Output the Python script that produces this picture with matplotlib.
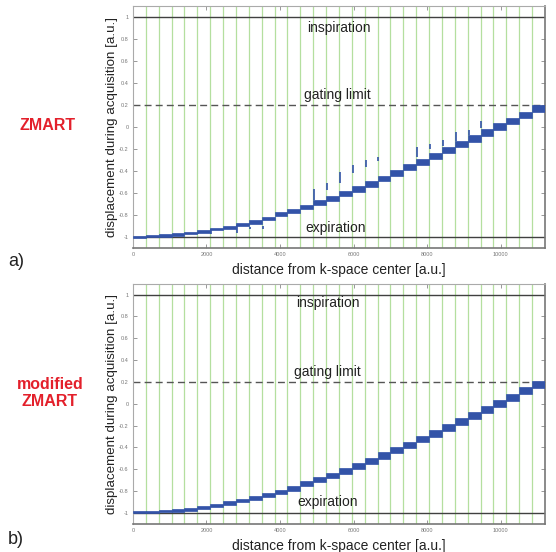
import numpy as np
import matplotlib
matplotlib.use("Agg")
import matplotlib.pyplot as plt

plt.rcParams['font.family'] = ['Liberation Sans', 'DejaVu Sans']

# step edges along k-space distance (gating windows)
edges = [0, 350, 700, 1050, 1400, 1750, 2100, 2450, 2800, 3150, 3500,
         3850, 4200, 4550, 4900, 5250, 5600, 5950, 6300, 6650, 7000,
         7350, 7700, 8050, 8400, 8750, 9100, 9450, 9800, 10150, 10500,
         10850, 11200]

# a) ZMART: mean displacement of each window
zmart_level = [-0.997, -0.994, -0.988, -0.979, -0.967, -0.952, -0.930, -0.912,
               -0.891, -0.864, -0.833, -0.796, -0.761, -0.730, -0.688, -0.648,
               -0.609, -0.564, -0.518, -0.468, -0.421, -0.368, -0.315, -0.264,
               -0.210, -0.156, -0.103, -0.048, 0.003, 0.055, 0.109, 0.167]
zmart_spread = [0.009, 0.009, 0.010, 0.010, 0.011, 0.012, 0.012, 0.013,
                0.014, 0.015, 0.017, 0.018, 0.019, 0.020, 0.021, 0.022,
                0.023, 0.024, 0.025, 0.026, 0.027, 0.027, 0.028, 0.028,
                0.029, 0.029, 0.030, 0.030, 0.030, 0.030, 0.030, 0.030]

# outliers at window starts (ZMART only)
spike_x = [1750, 2100, 2800, 3150, 3500, 4900, 5250, 5600, 5950, 6300, 6650,
           7700, 8050, 8400, 8750, 9100, 9450]
spike_lo = [-0.975, -0.975, -0.966, -0.925, -0.925, -0.664, -0.573, -0.512,
            -0.415, -0.360, -0.306, -0.270, -0.200, -0.170, -0.130, -0.070, -0.012]
spike_hi = [-0.952, -0.930, -0.891, -0.912, -0.905, -0.566, -0.512, -0.406,
            -0.345, -0.300, -0.270, -0.179, -0.155, -0.118, -0.045, -0.024, 0.057]

# b) modified ZMART
mod_level = [-0.993, -0.990, -0.984, -0.978, -0.966, -0.951, -0.929, -0.908,
             -0.887, -0.862, -0.836, -0.807, -0.774, -0.734, -0.697, -0.658,
             -0.615, -0.569, -0.523, -0.474, -0.422, -0.376, -0.322, -0.270,
             -0.215, -0.160, -0.105, -0.050, 0.005, 0.060, 0.118, 0.173]
mod_spread = [0.010, 0.010, 0.011, 0.011, 0.012, 0.013, 0.014, 0.015,
              0.016, 0.017, 0.019, 0.020, 0.021, 0.022, 0.024, 0.025,
              0.026, 0.027, 0.028, 0.029, 0.030, 0.030, 0.031, 0.031,
              0.032, 0.032, 0.032, 0.032, 0.032, 0.032, 0.032, 0.032]

inspiration = 1.0
expiration = -1.0
gating_limit = 0.2

xticks = [0, 2000, 4000, 6000, 8000, 10000]
yticks = [-1, -0.8, -0.6, -0.4, -0.2, 0, 0.2, 0.4, 0.6, 0.8, 1]
ytick_labels = ['-1', '-0.8', '-0.6', '-0.4', '-0.2', '0', '0.2', '0.4', '0.6', '0.8', '1']

blue = '#3353a8'
green = '#b4df9f'


def draw_panel(ax, level, spread, label_pos, spikes=None):
    # gating window boundaries
    for x in edges[1:-1]:
        ax.axvline(x, color=green, lw=0.9, zorder=1)
    ax.axhline(inspiration, color='#404040', lw=1.0, zorder=2)
    ax.axhline(expiration, color='#404040', lw=1.0, zorder=2)
    ax.axhline(gating_limit, color='#555555', lw=1.0, ls=(0, (5, 3)), zorder=2)

    lvl = np.array(level)
    spr = np.array(spread)
    widths = np.diff(edges)
    ax.bar(edges[:-1], 2 * spr, bottom=lvl - spr, width=widths, align='edge',
           color=blue, edgecolor=blue, lw=0.5, zorder=3)
    if spikes is not None:
        sx, lo, hi = spikes
        ax.vlines(np.array(sx) + 25, lo, hi, color=blue, lw=1.2, zorder=3)

    xi, yi, xg, yg, xe, ye = label_pos
    ax.text(xi, yi, 'inspiration', ha='center', va='center', fontsize=10, color='#222222')
    ax.text(xg, yg, 'gating limit', ha='center', va='center', fontsize=10, color='#222222')
    ax.text(xe, ye, 'expiration', ha='center', va='center', fontsize=10, color='#222222')

    ax.set_xlim(edges[0], edges[-1])
    ax.set_ylim(-1.1, 1.1)
    ax.set_xticks(xticks)
    ax.set_xticklabels([str(t) for t in xticks])
    ax.set_yticks(yticks)
    ax.set_yticklabels(ytick_labels)
    ax.tick_params(direction='in', length=3, width=0.6, colors='#888888',
                   labelsize=4, labelcolor='#777777', top=True, right=True, pad=3)
    for side in ['left', 'top']:
        ax.spines[side].set_color('#aaaaaa')
        ax.spines[side].set_linewidth(0.8)
    for side in ['right', 'bottom']:
        ax.spines[side].set_color('#777777')
        ax.spines[side].set_linewidth(1.2)
    ax.set_ylabel('displacement during acquisition [a.u.]', fontsize=9.6, color='#222222', labelpad=1)
    ax.set_xlabel('distance from k-space center [a.u.]', fontsize=10, color='#222222', labelpad=4)


fig = plt.figure(figsize=(5.56, 5.52), dpi=100)
ax1 = fig.add_axes([0.239, 0.551, 0.741, 0.438])
ax2 = fig.add_axes([0.239, 0.051, 0.741, 0.435])

draw_panel(ax1, zmart_level, zmart_spread,
           (5600, 0.9, 5550, 0.29, 5500, -0.92),
           spikes=(spike_x, spike_lo, spike_hi))
draw_panel(ax2, mod_level, mod_spread,
           (5300, 0.92, 5300, 0.29, 5300, -0.9))

fig.text(48 / 556, 1 - 125 / 552, 'ZMART', color='#e3202b', fontsize=11.5,
         fontweight='bold', ha='center', va='center')
fig.text(50 / 556, 1 - 393 / 552, 'modified\nZMART', color='#e3202b', fontsize=11.5,
         fontweight='bold', ha='center', va='center', linespacing=1.2)
fig.text(16 / 556, 1 - 262 / 552, 'a)', fontsize=13, ha='center', va='center', color='#222222')
fig.text(16 / 556, 1 - 540 / 552, 'b)', fontsize=13, ha='center', va='center', color='#222222')

fig.savefig('out.png', dpi=100)
